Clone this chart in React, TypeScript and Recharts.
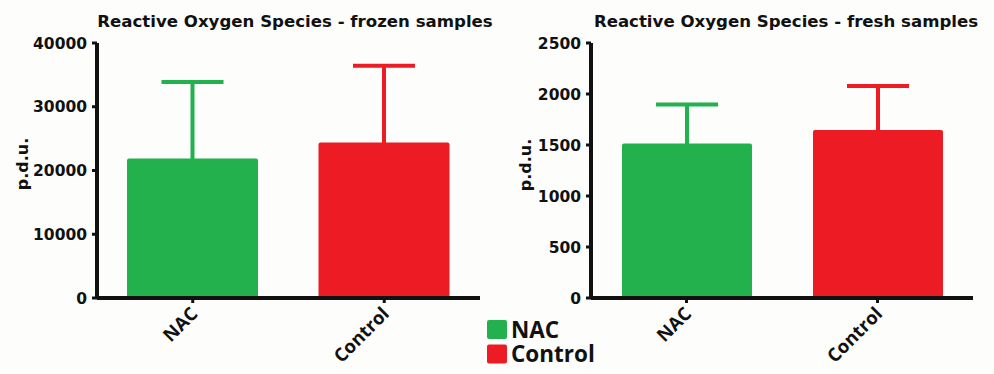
import { BarChart, Bar, XAxis, YAxis, ErrorBar, Cell } from 'recharts';

const groups = ['NAC', 'Control'];
const groupColors = ['#22b14c', '#ed1c24'];

const frozenMean = [21900, 24400];
const frozenErr = [12000, 12050];
const frozenTicks = [0, 10000, 20000, 30000, 40000];

const freshMean = [1515, 1646];
const freshErr = [383, 432];
const freshTicks = [0, 500, 1000, 1500, 2000, 2500];

const INK = '#111';
const BG = '#fdfdfc';

// one error key per group so each whisker can take its bar's colour;
// the lower half sits inside the bar, same as the original plot
function buildRows(means: number[], errs: number[]) {
  return groups.map((g, i) => {
    const row: any = { group: g, value: means[i] };
    groups.forEach((k, j) => {
      row['err_' + k] = j === i ? errs[i] : null;
    });
    return row;
  });
}

// eslint-disable-next-line @typescript-eslint/no-explicit-any
function GroupTick({ x, y, payload }: any) {
  const ax = x + 6;
  const ay = y + 10;
  return (
    <text
      x={ax}
      y={ay}
      transform={`rotate(-45 ${ax} ${ay})`}
      textAnchor="end"
      fill={INK}
      fontFamily="'Open Sans', sans-serif"
      fontWeight="bold"
      fontSize={18.5}
    >
      {payload.value}
    </text>
  );
}

interface PanelProps {
  means: number[];
  errs: number[];
  ticks: number[];
  left: number;
  width: number;
  axisWidth: number;
  marginRight: number;
  barSize: number;
}

function Panel({ means, errs, ticks, left, width, axisWidth, marginRight, barSize }: PanelProps) {
  const rows = buildRows(means, errs);
  return (
    <div style={{ position: 'absolute', left, top: 0 }}>
      <BarChart
        width={width}
        height={374}
        data={rows}
        margin={{ top: 43, right: marginRight, bottom: 16, left: 0 }}
      >
        <XAxis
          dataKey="group"
          interval={0}
          height={60}
          tickSize={5}
          axisLine={{ stroke: INK, strokeWidth: 4 }}
          tickLine={{ stroke: INK, strokeWidth: 3 }}
          tick={<GroupTick />}
        />
        <YAxis
          width={axisWidth}
          domain={[ticks[0], ticks[ticks.length - 1]]}
          ticks={ticks}
          interval={0}
          tickSize={5}
          tickMargin={5}
          axisLine={{ stroke: INK, strokeWidth: 4 }}
          tickLine={{ stroke: INK, strokeWidth: 3 }}
          tick={{ fill: INK, fontSize: 15.5, fontWeight: 'bold', fontFamily: 'DejaVu Sans' }}
        />
        <Bar dataKey="value" barSize={barSize} radius={2} isAnimationActive={false}>
          {rows.map((r, i) => (
            <Cell key={r.group} fill={groupColors[i]} />
          ))}
          {groups.map((g, i) => (
            <ErrorBar
              key={g}
              dataKey={'err_' + g}
              direction="y"
              width={31}
              stroke={groupColors[i]}
              strokeWidth={4}
              isAnimationActive={false}
            />
          ))}
        </Bar>
      </BarChart>
    </div>
  );
}

export default function App() {
  return (
    <div
      style={{
        position: 'absolute',
        left: 0,
        top: 0,
        width: 994,
        height: 374,
        background: BG,
        overflow: 'hidden',
      }}
    >
      <Panel
        means={frozenMean}
        errs={frozenErr}
        ticks={frozenTicks}
        left={0}
        width={500}
        axisWidth={97}
        marginRight={20}
        barSize={131}
      />
      <Panel
        means={freshMean}
        errs={freshErr}
        ticks={freshTicks}
        left={500}
        width={494}
        axisWidth={91}
        marginRight={21}
        barSize={130}
      />
      <svg
        width={994}
        height={374}
        style={{ position: 'absolute', left: 0, top: 0, pointerEvents: 'none' }}
      >
        <g fontFamily="DejaVu Sans" fontWeight="bold" fill={INK}>
          <text x={295} y={26.5} textAnchor="middle" fontSize={16.6}>
            Reactive Oxygen Species - frozen samples
          </text>
          <text x={786} y={26.5} textAnchor="middle" fontSize={16.6}>
            Reactive Oxygen Species - fresh samples
          </text>
          <text x={28} y={164} transform="rotate(-90 28 164)" textAnchor="middle" fontSize={16}>
            p.d.u.
          </text>
          <text x={531} y={165} transform="rotate(-90 531 165)" textAnchor="middle" fontSize={16}>
            p.d.u.
          </text>
        </g>
        {groups.map((g, i) => (
          <g key={g}>
            <rect x={487} y={320 + i * 24.5} width={20} height={19} rx={2} fill={groupColors[i]} />
            <text
              x={511}
              y={337.5 + i * 24.5}
              fill={INK}
              fontFamily="'Open Sans', sans-serif"
              fontWeight="bold"
              fontSize={22.5}
            >
              {g}
            </text>
          </g>
        ))}
      </svg>
    </div>
  );
}
